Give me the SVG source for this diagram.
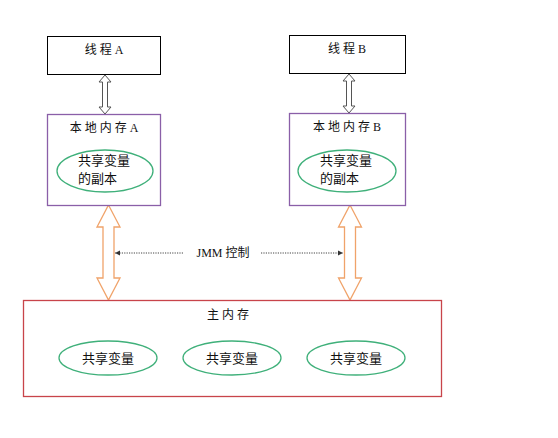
<svg xmlns="http://www.w3.org/2000/svg" width="558" height="438" viewBox="0 0 558 438">
<style>
.t{font-family:"Liberation Serif","Noto Sans CJK SC",serif;font-size:12px;fill:#111;text-anchor:middle}
.c{font-family:"Noto Sans CJK SC",sans-serif;font-size:13px;fill:#111}
.thread{fill:#fff;stroke:#000;stroke-width:1}
.local{fill:#fff;stroke:#8a5fa8;stroke-width:1.3}
.main{fill:#fff;stroke:#c8444a;stroke-width:1.3}
.var{fill:#fff;stroke:#3fb07a;stroke-width:1.3}
.garrow{fill:#fff;stroke:#555;stroke-width:1}
.oarrow{fill:#fff;stroke:#f0a36a;stroke-width:1.3}
.dot{stroke:#444;stroke-width:1;stroke-dasharray:1.2 1.2;fill:none}
</style>
<defs>
<marker id="ah" markerWidth="6" markerHeight="6" refX="5" refY="3" orient="auto" markerUnits="userSpaceOnUse">
<path d="M0,0.5 L5,3 L0,5.5 z" fill="#333"/>
</marker>
</defs>
<rect width="558" height="438" fill="#fff"/>
<g id="connectors">
<path class="garrow" d="M105,75 L111,82 L107.5,82 L107.5,107 L111,107 L105,114 L99,107 L102.5,107 L102.5,82 L99,82 Z"/>
<path class="garrow" d="M349,74 L355,81 L351.5,81 L351.5,106 L355,106 L349,113 L343,106 L346.5,106 L346.5,81 L343,81 Z"/>
<path class="oarrow" d="M108.5,205 L120,227 L114,227 L114,278 L120,278 L108.5,300 L97,278 L103,278 L103,227 L97,227 Z"/>
<path class="oarrow" d="M350,205 L361.5,227 L355.5,227 L355.5,278 L361.5,278 L350,300 L338.5,278 L344.5,278 L344.5,227 L338.5,227 Z"/>
<line class="dot" x1="183" y1="253" x2="115" y2="253" marker-end="url(#ah)"/>
<line class="dot" x1="261" y1="253" x2="343" y2="253" marker-end="url(#ah)"/>
<text class="t" x="223" y="257">JMM <tspan style="font-family:'Noto Sans CJK SC',sans-serif">控制</tspan></text>
</g>
<g id="threadA">
<rect class="thread" x="47.5" y="36.5" width="113" height="38"/>
<text class="t" x="104" y="54">线 程 A</text>
</g>
<g id="threadB">
<rect class="thread" x="289.5" y="35.5" width="116" height="38"/>
<text class="t" x="347" y="53">线 程 B</text>
</g>
<g id="localA">
<rect class="local" x="47.5" y="114.5" width="113" height="91"/>
<text class="t" x="104" y="132">本 地 内 存 A</text>
<ellipse class="var" cx="105" cy="171" rx="48" ry="21"/>
<text class="c" x="78" y="165">共享变量</text>
<text class="c" x="78" y="183">的副本</text>
</g>
<g id="localB">
<rect class="local" x="289.5" y="113.5" width="116" height="92"/>
<text class="t" x="347" y="131">本 地 内 存 B</text>
<ellipse class="var" cx="347" cy="171" rx="49" ry="21"/>
<text class="c" x="320" y="165">共享变量</text>
<text class="c" x="320" y="183">的副本</text>
</g>
<g id="mainMemory">
<rect class="main" x="23.5" y="300.5" width="418" height="96"/>
<text class="t" x="228" y="319">主 内 存</text>
</g>
<g id="var1">
<ellipse class="var" cx="108" cy="358" rx="49" ry="17"/>
<text class="c" x="108" y="362.5" text-anchor="middle">共享变量</text>
</g>
<g id="var2">
<ellipse class="var" cx="232" cy="358" rx="49" ry="17"/>
<text class="c" x="232" y="362.5" text-anchor="middle">共享变量</text>
</g>
<g id="var3">
<ellipse class="var" cx="356" cy="358" rx="49" ry="17"/>
<text class="c" x="356" y="362.5" text-anchor="middle">共享变量</text>
</g>
</svg>
